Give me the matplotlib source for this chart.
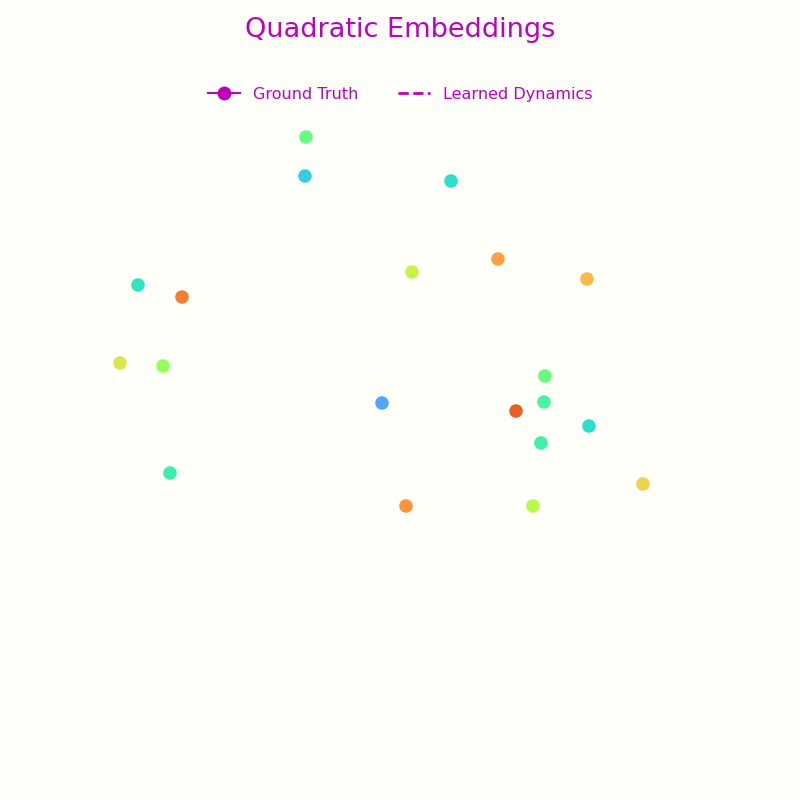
import numpy as np
import matplotlib
matplotlib.use("Agg")
import matplotlib.pyplot as plt
from matplotlib.lines import Line2D

# embedding points (x, y) and colour value for each
x_vals = [-0.94, -0.95, 0.51, 0.12, 0.98, 1.87, -2.62, -2.18, -2.80, -2.37,
          -0.18, 1.45, 1.44, 1.16, 1.89, 1.41, -2.30, 2.43, 0.06, 1.33]
y_vals = [2.63, 2.24, 2.19, 1.28, 1.41, 1.21, 1.15, 1.03, 0.37, 0.34,
          -0.03, 0.24, -0.02, -0.11, -0.26, -0.43, -0.73, -0.84, -1.06, -1.06]
c_vals = [0.42, 0.27, 0.31, 0.55, 0.72, 0.68, 0.33, 0.77, 0.58, 0.47,
          0.20, 0.42, 0.38, 0.82, 0.31, 0.37, 0.36, 0.63, 0.74, 0.52]

title_text = "Quadratic Embeddings"
legend_labels = ["Ground Truth", "Learned Dynamics"]
accent = "#bf00bf"
bg = "#fffffa"

fig = plt.figure(figsize=(8, 8), dpi=100, facecolor=bg)
ax = fig.add_axes([0, 0, 1, 1])
ax.set_facecolor(bg)

ax.scatter(x_vals, y_vals, c=c_vals, cmap="turbo", vmin=0, vmax=1,
           s=95, alpha=0.9, edgecolors="none")

ax.set_xlim(-4, 4)
ax.set_ylim(-4, 4)
ax.axis("off")

fig.text(0.5, 0.963, title_text, ha="center", va="center",
         fontsize=19.5, color=accent)

handles = [
    Line2D([0], [0], color=accent, lw=1.5, marker="o", markersize=9),
    Line2D([0], [0], color=accent, lw=2, linestyle="--"),
]
fig.legend(handles, legend_labels, loc="center", bbox_to_anchor=(0.5, 0.882),
           ncol=2, frameon=False, fontsize=11.5, labelcolor=accent,
           columnspacing=2.5)

fig.savefig("out.png", dpi=100, facecolor=bg)
